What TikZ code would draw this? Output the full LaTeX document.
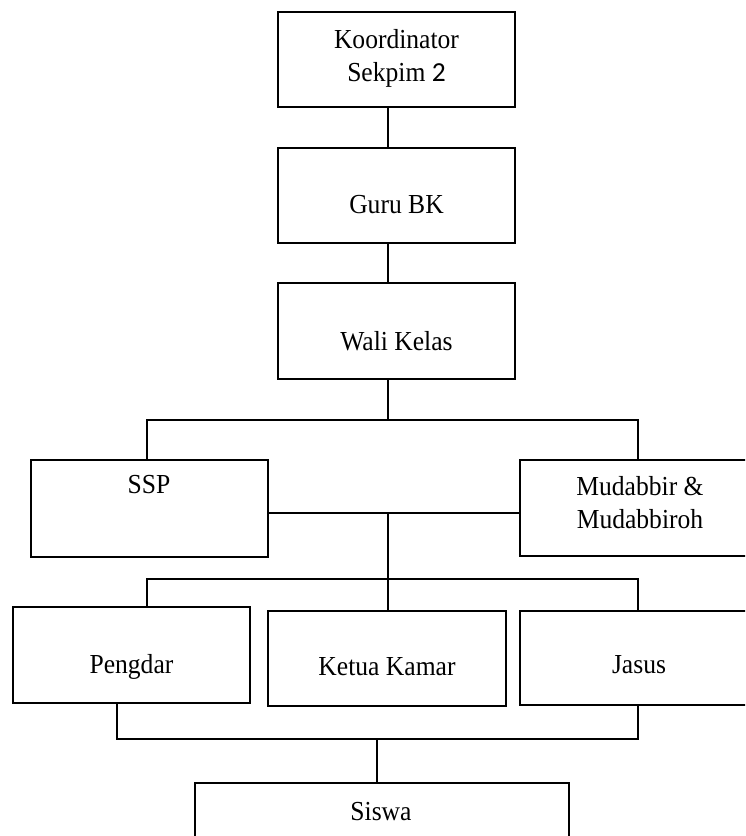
\documentclass[tikz,border=0pt]{standalone}
\usepackage{fontspec}
\setmainfont{Liberation Serif}[FakeStretch=0.93]
\newfontfamily\numfont{Carlito}
\begin{document}
\begin{tikzpicture}[x=1pt,y=-1pt,
  orgbox/.style={draw=black, line width=2.6pt, fill=white, rectangle, inner sep=0pt},
  lbl/.style={inner sep=0pt, font=\fontsize{27.5}{33}\selectfont, align=center},
  conn/.style={draw=black, line width=1.1pt},
  bus/.style={draw=black, line width=1.8pt}
]
\useasboundingbox (0,0) rectangle (745,836);
\clip (0,0) rectangle (745,836);
\fill[white] (0,0) rectangle (745,836);

% boxes
\node[orgbox, minimum width=237pt, minimum height=95pt] (koord) at (396.5,59.5) {};
\node[orgbox, minimum width=237pt, minimum height=95pt] (guru)  at (396.5,195.5) {};
\node[orgbox, minimum width=237pt, minimum height=96pt] (wali)  at (396.5,331) {};
\node[orgbox, minimum width=237pt, minimum height=97pt] (ssp)   at (149.5,508.5) {};
\node[orgbox, minimum width=240pt, minimum height=96pt] (mud)   at (640,508) {};
\node[orgbox, minimum width=237pt, minimum height=96pt] (peng)  at (131.5,655) {};
\node[orgbox, minimum width=238pt, minimum height=95pt] (ketua) at (387,658.5) {};
\node[orgbox, minimum width=238pt, minimum height=94pt] (jas)   at (639,658) {};
\node[orgbox, minimum width=374pt, minimum height=100pt] (siswa) at (382,833) {};

% labels
\node[lbl, anchor=north] (koordT) at (396.5,29.5) {Koordinator\\Sekpim {\numfont 2}};
\node[lbl, anchor=base] (guruT) at (396.5,213) {Guru BK};
\node[lbl, anchor=base] (waliT) at (396.5,350) {Wali Kelas};
\node[lbl, anchor=base] (sspT) at (149,493) {SSP};
\node[lbl, anchor=north] (mudT) at (640,476.5) {Mudabbir \&\\Mudabbiroh};
\node[lbl, anchor=base] (pengT) at (131.5,673) {Pengdar};
\node[lbl, anchor=base] (ketuaT) at (387,675) {Ketua Kamar};
\node[lbl, anchor=base] (jasT) at (639,673) {Jasus};
\node[lbl, anchor=base] (siswaT) at (381,820) {Siswa};

% helper coordinates
\coordinate (xc) at (388,0);
\coordinate (d1) at (147,0);
\coordinate (d2) at (638,0);
\coordinate (d3) at (117,0);
\coordinate (j1) at (388,420);
\coordinate (m1) at (388,513);
\coordinate (j2) at (388,579);
\coordinate (j3) at (377,739);

% connectors
\draw[conn] (koord.south -| xc) -- (guru.north -| xc);
\draw[conn] (guru.south -| xc) -- (wali.north -| xc);
\draw[conn] (wali.south -| xc) -- (j1);
\draw[bus] (ssp.north -| d1) |- (j1) -| (mud.north -| d2);
\draw[conn] (ssp.east |- m1) -- (mud.west |- m1);
\draw[conn] (m1) -- (j2);
\draw[bus] (peng.north -| d1) |- (j2) -| (jas.north -| d2);
\draw[conn] (j2) -- (ketua.north -| j2);
\draw[bus] (peng.south -| d3) |- (j3) -| (jas.south -| d2);
\draw[bus] (j3) -- (siswa.north -| j3);
\end{tikzpicture}
\end{document}
